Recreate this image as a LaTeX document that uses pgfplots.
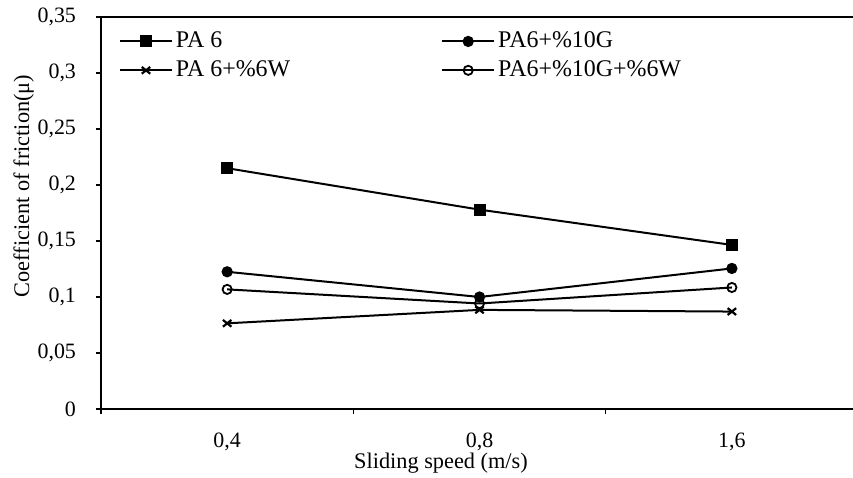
\documentclass[border=0pt]{standalone}
\usepackage{fontspec}
\setmainfont{Liberation Serif}
\usepackage{pgfplots}
\pgfplotsset{compat=1.18}

\pgfplotstableread{
x   pa6    g10    w6     gw
0   0.215  0.1225 0.0765 0.1068
1   0.178  0.1000 0.0885 0.0942
2   0.1465 0.1255 0.0870 0.1085
}\friction

\begin{document}
\begin{tikzpicture}
\begin{axis}[
  scale only axis,
  width=376bp, height=196bp,
  xmin=-0.5, xmax=2.48, ymin=0, ymax=0.35,
  axis x line=box, axis y line=left,
  axis line style={line width=0.9bp, -},
  xtick={0,1,2},
  xticklabels={{0,4},{0,8},{1,6}},
  major x tick style={draw=none},
  minor xtick={-0.5,0.5,1.5},
  xtick pos=bottom,
  ytick={0,0.05,...,0.35},
  tick align=outside,
  major tick length=2.5bp, minor tick length=2.5bp,
  tick style={black, line width=0.6bp},
  /pgf/number format/.cd, use comma, fixed, assume math mode=true, /pgfplots/.cd,
  tick label style={font=\fontsize{11}{13}\selectfont},
  xticklabel style={yshift=-6bp},
  yticklabel style={xshift=-6.5bp},
  xlabel={Sliding speed (m/s)},
  ylabel={Coefficient of friction(μ)},
  label style={font=\fontsize{11.2}{13}\selectfont},
  xlabel style={xshift=-18bp, yshift=6bp},
  ylabel style={at={(ticklabel cs:0.569)}, yshift=-5bp},
  legend columns=2,
  legend cell align=left,
  legend image code/.code={%
    \draw[mark repeat=2,mark phase=2,#1] plot coordinates {(0bp,0bp)(13bp,0bp)(26bp,0bp)};},
  legend style={draw=none, fill=none, at={(0,1)}, anchor=north west,
    xshift=9bp, yshift=-6bp, inner sep=0pt, outer sep=0pt,
    nodes={inner sep=1.5bp},
    font=\fontsize{12}{14}\selectfont, row sep=2bp,
    /tikz/column 2/.style={column sep=74bp}},
]
\addplot[black, line width=1bp, mark=square*, mark size=2.5bp] table[x=x, y=pa6] {\friction};
\addlegendentry{PA 6}
\addplot[black, line width=1bp, mark=*, mark size=2.3bp] table[x=x, y=g10] {\friction};
\addlegendentry{PA6+\%10G}
\addplot[black, line width=1bp, mark=x, mark size=3bp, mark options={line width=1.1bp, yscale=0.8}] table[x=x, y=w6] {\friction};
\addlegendentry{PA 6+\%6W}
\addplot[black, line width=1bp, mark=o, mark size=2.3bp, mark options={fill=white, line width=0.9bp}] table[x=x, y=gw] {\friction};
\addlegendentry{PA6+\%10G+\%6W}
\end{axis}
\pgfresetboundingbox
\path[use as bounding box] ([shift={(-50.5bp,-34.5bp)}]current axis.south west) rectangle ([shift={(0bp,8.5bp)}]current axis.north east);
\end{tikzpicture}
\end{document}
